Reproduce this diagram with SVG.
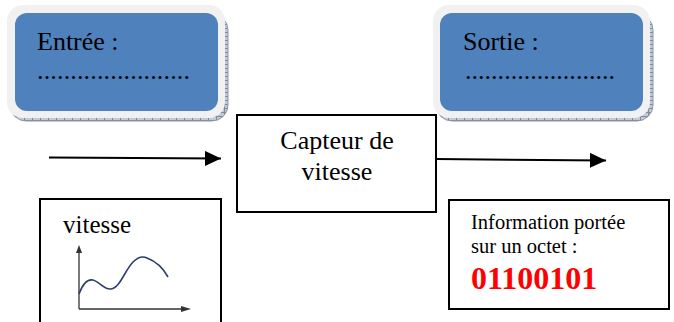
<svg xmlns="http://www.w3.org/2000/svg" width="674" height="322" viewBox="0 0 674 322">
<style>
.t{font-family:"Liberation Serif","Times New Roman",serif;fill:#000}
.frame{fill:#f1f1f1}
.blue{fill:#4f81bd}
.shadow{fill:url(#grid);stroke:#8d97a8;stroke-width:1}
.box{fill:#fff;stroke:#000;stroke-width:2}
.conn{stroke:#000;stroke-width:2;fill:none}
</style>
<defs>
<pattern id="grid" width="8" height="4" patternUnits="userSpaceOnUse">
<rect width="8" height="4" fill="#c3cad6"/>
<path d="M0 0.5H8M0.5 0V4" stroke="#7d899e" stroke-width="1"/>
</pattern>
<marker id="arr" markerWidth="16" markerHeight="15" refX="16" refY="7.5" orient="auto" markerUnits="userSpaceOnUse">
<path d="M0 0L16 7.5L0 15Z" fill="#000"/>
</marker>
</defs>
<g id="entree">
<rect class="shadow" x="10" y="14" width="218" height="107" rx="16"/>
<rect class="frame" x="7" y="5" width="218" height="113" rx="16"/>
<rect class="blue" x="15" y="13" width="203" height="98" rx="12"/>
<text class="t" x="37" y="50" font-size="26">Entrée :</text>
<text class="t" x="37" y="79" font-size="26" textLength="153" lengthAdjust="spacing">.......................</text>
</g>
<g id="sortie">
<rect class="shadow" x="436" y="14" width="217" height="107" rx="16"/>
<rect class="frame" x="433" y="5" width="217" height="113" rx="16"/>
<rect class="blue" x="440" y="13" width="203" height="98" rx="12"/>
<text class="t" x="463" y="50" font-size="26">Sortie :</text>
<text class="t" x="465" y="79" font-size="26" textLength="150" lengthAdjust="spacing">.......................</text>
</g>
<g id="capteur">
<rect class="box" x="237" y="115" width="199" height="97"/>
<text class="t" x="337" y="149" font-size="26" text-anchor="middle">Capteur de</text>
<text class="t" x="337" y="180" font-size="26" text-anchor="middle">vitesse</text>
</g>
<g id="entree-graph">
<path class="box" d="M40 323V199H221V323"/>
<text class="t" x="63" y="233" font-size="25">vitesse</text>
<path d="M79 309V252M79 309H183" stroke="#333" stroke-width="1.3" fill="none"/>
<path d="M76 253L79 245L82 253Z" fill="#333"/>
<path d="M181 306L191 309L181 312Z" fill="#333"/>
<path d="M79 294C83 283 88 279 93 280C100 282 104 290 111 289C120 288 125 270 133 262C138 257 143 256 147 258C155 261 162 266 168 277" stroke="#2d3d6e" stroke-width="1.6" fill="none"/>
</g>
<g id="sortie-info">
<rect class="box" x="449" y="200" width="220" height="109"/>
<text class="t" x="471" y="229" font-size="20.5">Information portée</text>
<text class="t" x="471" y="253" font-size="20.5">sur un octet :</text>
<text x="471" y="289" font-size="32" font-weight="bold" font-family="Liberation Serif,Times New Roman,serif" fill="#ff0000">01100101</text>
</g>
<g id="connectors">
<path class="conn" d="M49 157.5L221 158.5" marker-end="url(#arr)"/>
<path class="conn" d="M436 159L606 160.5" marker-end="url(#arr)"/>
</g>
</svg>
